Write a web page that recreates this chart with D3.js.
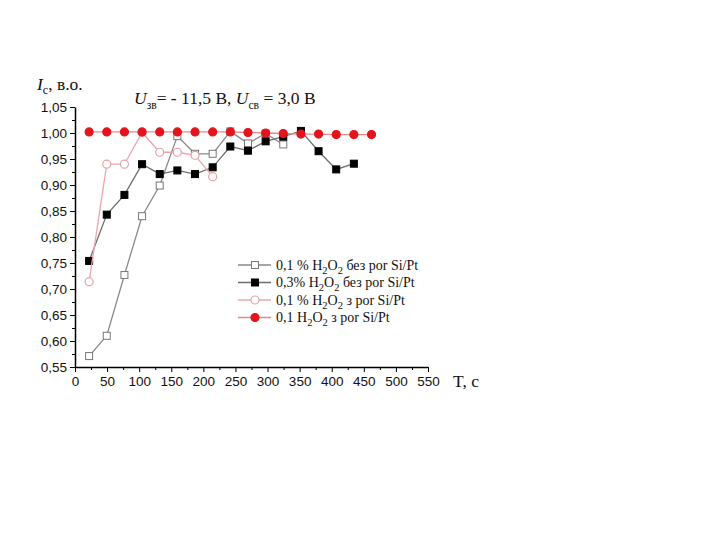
<!DOCTYPE html>
<html lang="uk">
<head>
<meta charset="UTF-8">
<script src="https://d3js.org/d3.v7.min.js"></script>
<style>
    html, body { margin: 0; padding: 0; background: #fff; }
    svg { display: block; }
    .tick text { font-family: "Liberation Sans", Arial, sans-serif; font-size: 13.5px; fill: #111; }
    .serif { font-family: "Liberation Serif", "Times New Roman", serif; fill: #111; }
</style>
</head>
<body>
<div id="chart"></div>
<script>
    // time, s
    let times = [22, 49.5, 77, 104.5, 132, 159.5, 187, 214.5, 242, 269.5, 297, 324.5, 352, 379.5, 407, 434.5, 462];

    let s_open_sq   = [0.571, 0.610, 0.727, 0.840, 0.899, 0.994, 0.960, 0.960, 1.003, 0.980, 0.999, 0.978];
    let s_fill_sq   = [0.754, 0.843, 0.881, 0.940, 0.921, 0.928, 0.921, 0.934, 0.974, 0.966, 0.984, 0.993, 1.004, 0.965, 0.930, 0.941];
    let s_open_circ = [0.714, 0.940, 0.940, 1.001, 0.963, 0.963, 0.957, 0.916];
    let s_fill_circ = [1.002, 1.002, 1.002, 1.002, 1.002, 1.002, 1.002, 1.002, 1.002, 1.001, 1.000, 0.999, 0.998, 0.998, 0.997, 0.997, 0.997];

    let x_ticks = [0, 50, 100, 150, 200, 250, 300, 350, 400, 450, 500, 550];
    let y_ticks = [0.55, 0.60, 0.65, 0.70, 0.75, 0.80, 0.85, 0.90, 0.95, 1.00, 1.05];

    let series = [
        { name: '0,1 % H|2|O|2| без por Si/Pt', values: s_open_sq, shape: 'square', fill: '#fff', stroke: '#777', line: '#8a8a8a' },
        { name: '0,3% H|2|O|2| без por Si/Pt', values: s_fill_sq, shape: 'square', fill: '#000', stroke: '#000', line: '#6e6e6e' },
        { name: '0,1 % H|2|O|2| з por Si/Pt', values: s_open_circ, shape: 'circle', fill: '#fff', stroke: '#e8a0a8', line: '#eba6ad' },
        { name: '0,1 H|2|O|2| з por Si/Pt', values: s_fill_circ, shape: 'circle', fill: '#e3141c', stroke: '#e3141c', line: '#f08585' }
    ];

    let width = 720, height = 540;
    let svg = d3.select('#chart').append('svg').attr('width', width).attr('height', height);

    let x = d3.scaleLinear().domain([0, 550]).range([75, 428]);
    let y = d3.scaleLinear().domain([0.55, 1.05]).range([367, 107]);

    let fmt = d => d3.format('.2f')(d).replace('.', ',');

    // minor ticks
    svg.append('g')
        .attr('transform', 'translate(0,367)')
        .call(d3.axisBottom(x).tickValues(d3.range(25, 550, 50)).tickSize(3).tickFormat(''))
        .call(g => g.select('.domain').remove());
    svg.append('g')
        .attr('transform', 'translate(75,0)')
        .call(d3.axisLeft(y).tickValues(d3.range(0, 10).map(i => 0.575 + i * 0.05)).tickSize(3).tickFormat(''))
        .call(g => g.select('.domain').remove());

    // major axes
    svg.append('g')
        .attr('transform', 'translate(0,367)')
        .call(d3.axisBottom(x).tickValues(x_ticks).tickSize(5).tickSizeOuter(0).tickPadding(4))
        .call(g => g.select('.domain').attr('stroke-width', 1.5));
    svg.append('g')
        .attr('transform', 'translate(75,0)')
        .call(d3.axisLeft(y).tickValues(y_ticks).tickFormat(fmt).tickSize(5).tickSizeOuter(0).tickPadding(3))
        .call(g => g.select('.domain').attr('stroke-width', 1.5));

    let line = d3.line().x(d => x(d[0])).y(d => y(d[1]));

    function drawMarker(g, s, cx, cy) {
        if (s.shape === 'square') {
            g.append('rect')
                .attr('x', cx - 3.5).attr('y', cy - 3.5)
                .attr('width', 7).attr('height', 7)
                .attr('fill', s.fill).attr('stroke', s.stroke).attr('stroke-width', 1);
        } else {
            g.append('circle')
                .attr('cx', cx).attr('cy', cy).attr('r', 4)
                .attr('fill', s.fill).attr('stroke', s.stroke).attr('stroke-width', 1.2);
        }
    }

    series.forEach(s => {
        let pts = s.values.map((v, i) => [times[i], v]);
        let g = svg.append('g');
        g.append('path')
            .attr('d', line(pts))
            .attr('fill', 'none')
            .attr('stroke', s.line)
            .attr('stroke-width', 1.3);
        pts.forEach(p => drawMarker(g, s, x(p[0]), y(p[1])));
    });

    // legend
    let legend = svg.append('g');
    series.forEach((s, i) => {
        let ly = 265 + i * 17.5;
        legend.append('line')
            .attr('x1', 238).attr('x2', 271).attr('y1', ly).attr('y2', ly)
            .attr('stroke', s.line).attr('stroke-width', 1.3);
        drawMarker(legend, s, 255, ly);
        let t = legend.append('text').attr('class', 'serif')
            .attr('x', 276).attr('y', ly + 4.5).attr('font-size', 14);
        s.name.split('|').forEach((part, k) => {
            if (k % 2 === 1) {
                t.append('tspan').attr('dy', 4).attr('font-size', 10.5).text(part);
            } else {
                t.append('tspan').attr('dy', k === 0 ? 0 : -4).text(part);
            }
        });
    });

    // y label
    let yl = svg.append('text').attr('class', 'serif').attr('x', 37).attr('y', 90).attr('font-size', 17.5);
    yl.append('tspan').attr('font-style', 'italic').text('I');
    yl.append('tspan').attr('dy', 4).attr('font-size', 12).text('c');
    yl.append('tspan').attr('dy', -4).text(', в.о.');

    // title
    let tt = svg.append('text').attr('class', 'serif').attr('x', 134).attr('y', 104).attr('font-size', 17.5);
    tt.append('tspan').attr('font-style', 'italic').text('U');
    tt.append('tspan').attr('dy', 5).attr('font-size', 11.5).text('зв');
    tt.append('tspan').attr('dy', -5).text('= - 11,5 В, ');
    tt.append('tspan').attr('font-style', 'italic').text('U');
    tt.append('tspan').attr('dy', 5).attr('font-size', 11.5).text('св');
    tt.append('tspan').attr('dy', -5).text(' = 3,0 В');

    // x label
    svg.append('text').attr('class', 'serif')
        .attr('x', 453).attr('y', 387).attr('font-size', 17.5)
        .text('T, c');
</script>
</body>
</html>
